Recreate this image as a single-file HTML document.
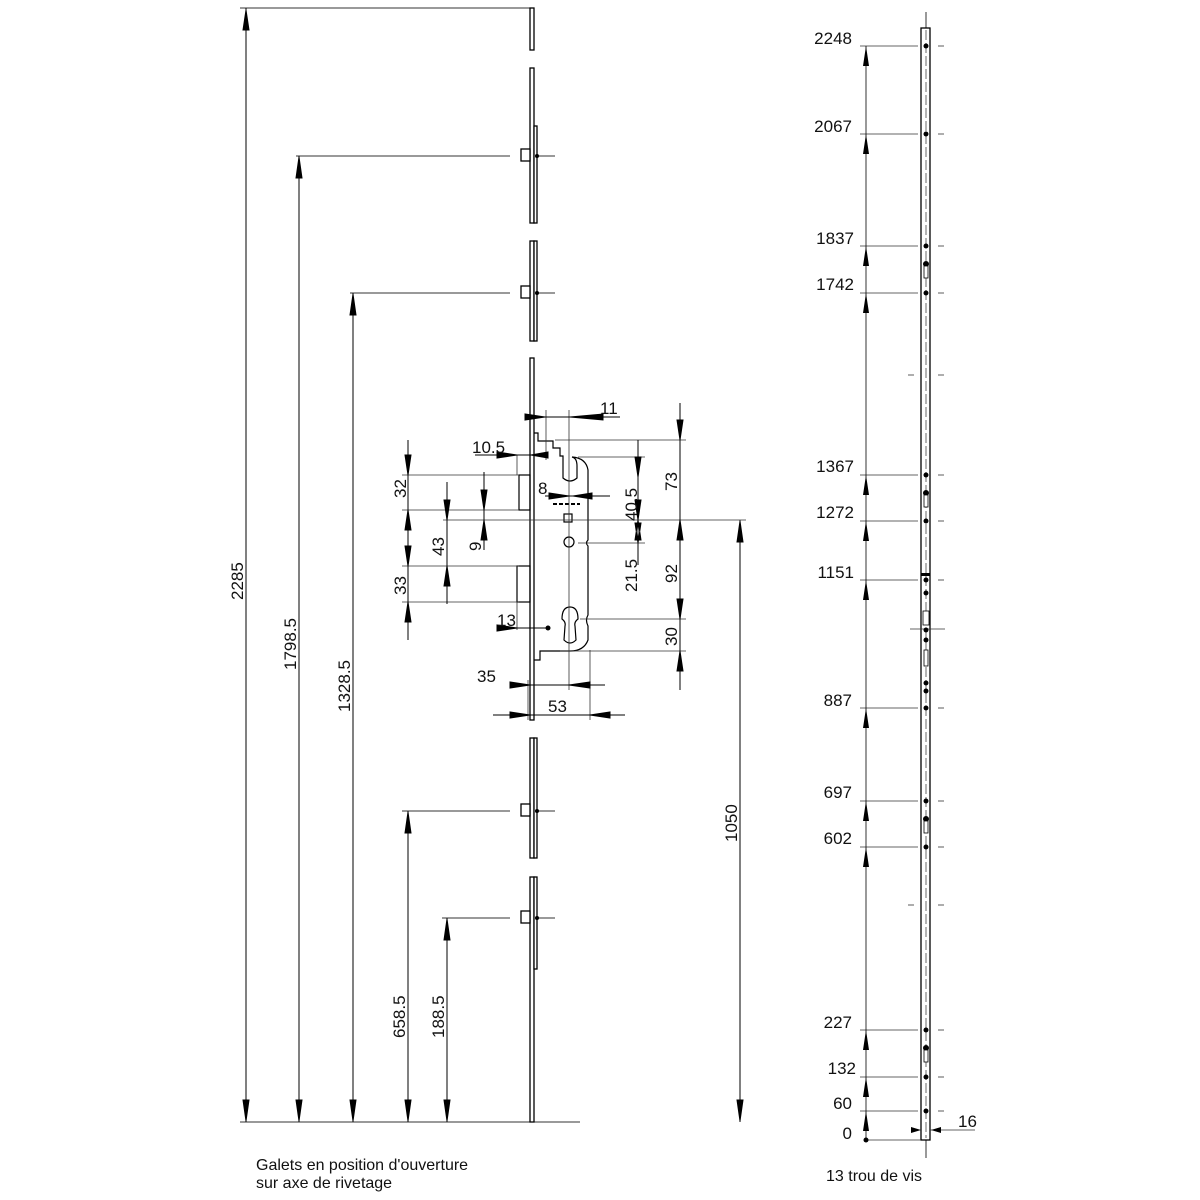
<!DOCTYPE html>
<html><head><meta charset="utf-8"><style>
html,body{margin:0;padding:0;background:#fff}
svg{display:block}
text{font-family:"Liberation Sans",Arial,sans-serif;font-size:17px;fill:#111}
</style></head><body>
<svg width="1200" height="1200" viewBox="0 0 1200 1200" xmlns="http://www.w3.org/2000/svg">
<g stroke="#333" stroke-width="1" fill="none">
<line x1="240" y1="8" x2="530" y2="8"/>
<line x1="240" y1="1122" x2="580" y2="1122"/>
<line x1="296" y1="156" x2="510" y2="156"/>
<line x1="350" y1="293" x2="510" y2="293"/>
<line x1="402" y1="811" x2="510" y2="811"/>
<line x1="442" y1="918" x2="510" y2="918"/>
<line x1="536" y1="156" x2="555" y2="156"/>
<line x1="536" y1="293" x2="555" y2="293"/>
<line x1="536" y1="811" x2="555" y2="811"/>
<line x1="536" y1="918" x2="555" y2="918"/>
</g>
<g stroke="#000" stroke-width="1">
<line x1="246" y1="8" x2="246" y2="1122"/>
<path d="M243,30 L249,30 L246,10z M243,1100 L249,1100 L246,1121z" fill="#000"/>
<line x1="299" y1="156" x2="299" y2="1122"/>
<path d="M296,178 L302,178 L299,157z M296,1100 L302,1100 L299,1121z" fill="#000"/>
<line x1="353" y1="293" x2="353" y2="1122"/>
<path d="M350,315 L356,315 L353,294z M350,1100 L356,1100 L353,1121z" fill="#000"/>
<line x1="408" y1="811" x2="408" y2="1122"/>
<path d="M405,833 L411,833 L408,812z M405,1100 L411,1100 L408,1121z" fill="#000"/>
<line x1="447" y1="918" x2="447" y2="1122"/>
<path d="M444,940 L450,940 L447,919z M444,1100 L450,1100 L447,1121z" fill="#000"/>
<line x1="740" y1="520" x2="740" y2="1122"/>
<path d="M737,542 L743,542 L740,521z M737,1100 L743,1100 L740,1121z" fill="#000"/>
</g>
<g stroke="#000" stroke-width="1.3" fill="#fff">
<rect x="530" y="8" width="4" height="42"/>
<rect x="530" y="68" width="4" height="155"/>
<rect x="534" y="126" width="3" height="97"/>
<rect x="530" y="241" width="4" height="100"/>
<rect x="534" y="241" width="3" height="100"/>
<rect x="530" y="358" width="4" height="362"/>
<rect x="530" y="738" width="4" height="120"/>
<rect x="534" y="738" width="3" height="120"/>
<rect x="530" y="877" width="4" height="245"/>
<rect x="534" y="877" width="3" height="92"/>
<rect x="521" y="149" width="9" height="12"/>
<rect x="521" y="286" width="9" height="12"/>
<rect x="521" y="804" width="9" height="12"/>
<rect x="521" y="911" width="9" height="12"/>
</g>
<g fill="#000"><circle cx="537" cy="156" r="2"/><circle cx="537" cy="293" r="2"/><circle cx="537" cy="811" r="2"/><circle cx="537" cy="918" r="2"/></g>
<g stroke="#000" stroke-width="1.2" fill="none">
<path d="M534,433 L538,433 L538,441 L553,441 L553,448 L560,448 L560,456 L563,456 L563,478 Q570,484 577,478 L577,466 Q577,458 572,457 Q586,458 588,470 L588,540 Q585,543 588,546 L588,615 Q585,620 588,626 L588,640 Q584,651 570,651 L540,651 L540,660 L534,660"/>
<rect x="519" y="475" width="11" height="35"/>
<rect x="517" y="566" width="13" height="36"/>
<rect x="564" y="514" width="8" height="8"/>
<circle cx="569" cy="542" r="5"/>
<path d="M562,619 Q562,607 570,607 Q578,607 578,619 Q574,622 575,626 L576,640 Q570,646 564,640 L565,626 Q566,622 562,619z"/>
</g>
<circle cx="548" cy="628" r="2.5" fill="#000"/>
<path d="M553,504 L580,504" stroke="#000" stroke-width="2" stroke-dasharray="4,2"/>
<g stroke="#333" stroke-width="0.8" fill="none">
<line x1="569" y1="410" x2="569" y2="690"/>
<line x1="546" y1="410" x2="546" y2="460"/>
<line x1="555" y1="440" x2="686" y2="440"/>
<line x1="578" y1="457" x2="645" y2="457"/>
<line x1="443" y1="520" x2="746" y2="520"/>
<line x1="578" y1="543" x2="645" y2="543"/>
<line x1="580" y1="619" x2="686" y2="619"/>
<line x1="560" y1="651" x2="686" y2="651"/>
<line x1="402" y1="475" x2="519" y2="475"/>
<line x1="402" y1="510" x2="519" y2="510"/>
<line x1="402" y1="566" x2="519" y2="566"/>
<line x1="402" y1="602" x2="519" y2="602"/>
<line x1="517" y1="455" x2="517" y2="475"/>
<line x1="517" y1="602" x2="517" y2="630"/>
<line x1="590" y1="650" x2="590" y2="720"/>
<line x1="528" y1="680" x2="528" y2="720"/>
</g>
<g stroke="#000" stroke-width="1" fill="#000">
<line x1="525" y1="417" x2="620" y2="417"/>
<path d="M525,414 L525,420 L545,417z M603,414 L603,420 L570,417z"/>
<line x1="475" y1="455" x2="548" y2="455"/>
<path d="M497,452 L497,458 L517,455z M548,452 L548,458 L531,455z"/>
<line x1="545" y1="496" x2="610" y2="496"/>
<path d="M549,493 L549,499 L569,496z M592,493 L592,499 L573,496z"/>
<line x1="497" y1="628" x2="548" y2="628"/>
<path d="M497,625 L497,631 L517,628z"/>
<line x1="510" y1="685" x2="605" y2="685"/>
<path d="M510,682 L510,688 L530,685z M590,682 L590,688 L569,685z"/>
<line x1="493" y1="715" x2="625" y2="715"/>
<path d="M510,712 L510,718 L530,715z M610,712 L610,718 L590,715z"/>
<line x1="680" y1="403" x2="680" y2="690"/>
<path d="M677,420 L683,420 L680,440z M677,540 L683,540 L680,520z M677,599 L683,599 L680,619z M677,671 L683,671 L680,651z"/>
<line x1="638" y1="440" x2="638" y2="565"/>
<path d="M635,457 L641,457 L638,477z M635,500 L641,500 L638,520z M635,540 L641,540 L638,520z M635,523 L641,523 L638,543z"/>
<line x1="408" y1="440" x2="408" y2="640"/>
<path d="M405,455 L411,455 L408,475z M405,530 L411,530 L408,510z M405,546 L411,546 L408,566z M405,622 L411,622 L408,602z"/>
<line x1="447" y1="482" x2="447" y2="604"/>
<path d="M444,500 L450,500 L447,520z M444,586 L450,586 L447,566z"/>
<line x1="484" y1="472" x2="484" y2="550"/>
<path d="M481,490 L487,490 L484,510z M481,540 L487,540 L484,520z"/>
</g>
<text x="472" y="453">10.5</text>
<text x="538" y="494">8</text>
<text x="600" y="414">11</text>
<text x="497" y="626">13</text>
<text x="477" y="682">35</text>
<text x="548" y="712">53</text>
<g>
<text transform="translate(406,498) rotate(-90)">32</text>
<text transform="translate(444,556) rotate(-90)">43</text>
<text transform="translate(481,551) rotate(-90)">9</text>
<text transform="translate(406,595) rotate(-90)">33</text>
<text transform="translate(637,521) rotate(-90)">40.5</text>
<text transform="translate(637,592) rotate(-90)">21.5</text>
<text transform="translate(677,491) rotate(-90)">73</text>
<text transform="translate(677,583) rotate(-90)">92</text>
<text transform="translate(677,646) rotate(-90)">30</text>
<text transform="translate(737,842) rotate(-90)">1050</text>
<text transform="translate(243,600) rotate(-90)">2285</text>
<text transform="translate(296,670) rotate(-90)">1798.5</text>
<text transform="translate(350,712) rotate(-90)">1328.5</text>
<text transform="translate(405,1038) rotate(-90)">658.5</text>
<text transform="translate(444,1038) rotate(-90)">188.5</text>
</g>
<text x="256" y="1170" style="font-size:16px">Galets en position d'ouverture</text>
<text x="256" y="1188" style="font-size:16px">sur axe de rivetage</text>
<line x1="926" y1="12" x2="926" y2="28" stroke="#333"/>
<line x1="926" y1="1140" x2="926" y2="1158" stroke="#333"/>
<rect x="921" y="28" width="9" height="1112" fill="#fff" stroke="#000" stroke-width="1.3"/>
<line x1="926" y1="30" x2="926" y2="1138" stroke="#444" stroke-width="0.8" stroke-dasharray="10,3"/>
<g stroke="#333" stroke-width="0.8">
<line x1="860" y1="46" x2="918" y2="46"/><line x1="938" y1="46" x2="944" y2="46"/>
<line x1="860" y1="134" x2="918" y2="134"/><line x1="938" y1="134" x2="944" y2="134"/>
<line x1="860" y1="246" x2="918" y2="246"/><line x1="938" y1="246" x2="944" y2="246"/>
<line x1="860" y1="293" x2="918" y2="293"/><line x1="938" y1="293" x2="944" y2="293"/>
<line x1="908" y1="375" x2="914" y2="375"/><line x1="938" y1="375" x2="944" y2="375"/>
<line x1="860" y1="475" x2="918" y2="475"/><line x1="938" y1="475" x2="944" y2="475"/>
<line x1="860" y1="521" x2="918" y2="521"/><line x1="938" y1="521" x2="944" y2="521"/>
<line x1="860" y1="580" x2="918" y2="580"/><line x1="938" y1="580" x2="944" y2="580"/>
<line x1="910" y1="629" x2="945" y2="629"/>
<line x1="860" y1="708" x2="918" y2="708"/><line x1="938" y1="708" x2="944" y2="708"/>
<line x1="860" y1="801" x2="918" y2="801"/><line x1="938" y1="801" x2="944" y2="801"/>
<line x1="860" y1="847" x2="918" y2="847"/><line x1="938" y1="847" x2="944" y2="847"/>
<line x1="908" y1="905" x2="914" y2="905"/><line x1="938" y1="905" x2="944" y2="905"/>
<line x1="860" y1="1030" x2="918" y2="1030"/><line x1="938" y1="1030" x2="944" y2="1030"/>
<line x1="860" y1="1077" x2="918" y2="1077"/><line x1="938" y1="1077" x2="944" y2="1077"/>
<line x1="860" y1="1111" x2="918" y2="1111"/><line x1="938" y1="1111" x2="944" y2="1111"/>
<line x1="866" y1="1140" x2="921" y2="1140"/>
<line x1="866" y1="46" x2="866" y2="1140" stroke="#000"/>
<line x1="930" y1="1130" x2="975" y2="1130"/>
</g>
<g fill="#000">
<path d="M863,66 L869,66 L866,46z M863,154 L869,154 L866,134z M863,266 L869,266 L866,246z M863,313 L869,313 L866,293z M863,495 L869,495 L866,475z M863,541 L869,541 L866,521z M863,600 L869,600 L866,580z M863,728 L869,728 L866,708z M863,821 L869,821 L866,801z M863,867 L869,867 L866,847z M863,1050 L869,1050 L866,1030z M863,1097 L869,1097 L866,1077z M863,1131 L869,1131 L866,1111z"/>
<circle cx="866" cy="1140" r="2.5"/>
<path d="M911,1127 L911,1133 L921,1130z M941,1127 L941,1133 L931,1130z"/>
<circle cx="926" cy="46" r="2.5"/><circle cx="926" cy="134" r="2.5"/><circle cx="926" cy="246" r="2.5"/>
<circle cx="926" cy="264" r="3"/><circle cx="926" cy="293" r="2.5"/>
<circle cx="926" cy="475" r="2.5"/><circle cx="926" cy="493" r="3"/><circle cx="926" cy="521" r="2.5"/>
<circle cx="926" cy="580" r="2.5"/><circle cx="926" cy="593" r="2.5"/><circle cx="926" cy="630" r="2.5"/>
<circle cx="926" cy="640" r="2.5"/><circle cx="926" cy="683" r="2.5"/><circle cx="926" cy="691" r="2.5"/>
<circle cx="926" cy="708" r="2.5"/><circle cx="926" cy="801" r="2.5"/><circle cx="926" cy="819" r="3"/>
<circle cx="926" cy="847" r="2.5"/><circle cx="926" cy="1030" r="2.5"/><circle cx="926" cy="1048" r="3"/>
<circle cx="926" cy="1077" r="2.5"/><circle cx="926" cy="1111" r="2.5"/>
<rect x="921" y="573" width="9" height="3"/>
</g>
<g fill="#fff" stroke="#000" stroke-width="0.8">
<rect x="924" y="266" width="4" height="12"/><rect x="924" y="495" width="4" height="12"/>
<rect x="923" y="611" width="6" height="14"/><rect x="924" y="650" width="4" height="16"/>
<rect x="924" y="821" width="4" height="12"/><rect x="924" y="1050" width="4" height="12"/>
</g>
<g text-anchor="end">
<text x="852" y="44">2248</text>
<text x="852" y="132">2067</text>
<text x="854" y="244">1837</text>
<text x="854" y="290">1742</text>
<text x="854" y="472">1367</text>
<text x="854" y="518">1272</text>
<text x="854" y="578">1151</text>
<text x="852" y="706">887</text>
<text x="852" y="798">697</text>
<text x="852" y="844">602</text>
<text x="852" y="1028">227</text>
<text x="856" y="1074">132</text>
<text x="852" y="1109">60</text>
<text x="852" y="1139">0</text>
</g>
<text x="958" y="1127">16</text>
<text x="826" y="1181" style="font-size:16px">13 trou de vis</text>
</svg>
</body></html>
